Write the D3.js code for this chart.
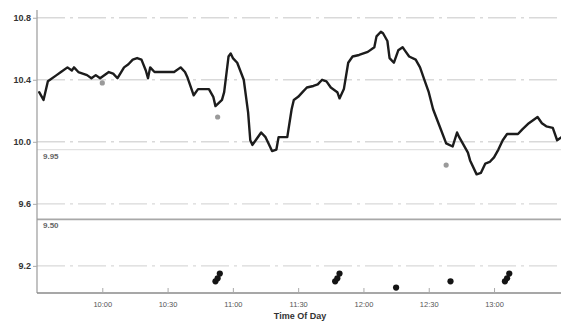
<!DOCTYPE html>
<html>
<head>
<meta charset="utf-8">
<script src="https://cdn.jsdelivr.net/npm/d3@7"></script>
<style>
  html, body { margin: 0; padding: 0; background: #fff; }
  svg { display: block; font-family: "Liberation Sans", Arial, sans-serif; }
</style>
</head>
<body>
<svg id="chart" width="561" height="325"></svg>
<script>
// Intraday readings (time of day, value)
const times = [
  "9:31","9:33","9:35","9:39","9:41","9:44","9:46","9:47","9:49","9:53",
  "9:55","9:57","9:59","10:03","10:05","10:07","10:10","10:12","10:14","10:16",
  "10:18","10:20","10:21","10:22","10:24","10:30","10:33","10:36","10:38","10:39",
  "10:42","10:44","10:49","10:51","10:52","10:55","10:56","10:58","10:59","11:00",
  "11:02","11:05","11:07","11:08","11:09","11:10","11:13","11:15","11:16","11:18",
  "11:20","11:21","11:23","11:25","11:27","11:28","11:30","11:32","11:34","11:37",
  "11:39","11:41","11:43","11:45","11:48","11:49","11:51","11:53","11:55","11:58",
  "12:00","12:02","12:05","12:06","12:08","12:09","12:11","12:12","12:14","12:16",
  "12:18","12:19","12:21","12:24","12:26","12:28","12:30","12:32","12:35","12:38",
  "12:41","12:43","12:44","12:48","12:49","12:52","12:54","12:56","12:58","13:00",
  "13:02","13:04","13:06","13:11","13:13","13:16","13:20","13:22","13:24","13:27",
  "13:29","13:31"
];
const values = [
  10.32,10.27,10.39,10.43,10.45,10.48,10.46,10.48,10.45,10.43,
  10.41,10.43,10.41,10.45,10.44,10.41,10.48,10.50,10.53,10.54,
  10.53,10.46,10.41,10.48,10.45,10.45,10.45,10.48,10.45,10.42,
  10.30,10.34,10.34,10.29,10.23,10.27,10.32,10.55,10.57,10.54,
  10.51,10.40,10.19,10.01,9.98,10.00,10.06,10.03,10.00,9.94,
  9.95,10.03,10.03,10.03,10.21,10.27,10.29,10.32,10.35,10.36,
  10.37,10.40,10.39,10.35,10.32,10.28,10.34,10.51,10.55,10.56,
  10.57,10.58,10.61,10.68,10.71,10.70,10.65,10.54,10.51,10.59,
  10.61,10.59,10.55,10.53,10.48,10.40,10.32,10.21,10.10,9.99,
  9.97,10.06,10.03,9.93,9.88,9.79,9.80,9.86,9.87,9.90,
  9.95,10.01,10.05,10.05,10.08,10.12,10.16,10.12,10.10,10.09,
  10.01,10.03
];

// Event markers along the bottom of the plot
const eventTimes  = ["10:52","10:53","10:54","11:47","11:48","11:49","12:15","12:40","13:05","13:06","13:07"];
const eventValues = [9.10, 9.12, 9.15, 9.10, 9.12, 9.15, 9.06, 9.10, 9.10, 9.12, 9.15];

// Annotated readings
const noteTimes  = ["10:00","10:53","12:38"];
const noteValues = [10.38, 10.16, 9.85];

// Reference levels
const refValues = [9.95, 9.50];

// Axis ticks
const yTicks = [10.8, 10.4, 10.0, 9.6, 9.2];
const xTicks = ["10:00","10:30","11:00","11:30","12:00","12:30","13:00"];
const xTitle = "Time Of Day";

const parse = d3.timeParse("%H:%M");
const svg = d3.select("#chart");

const x = d3.scaleTime()
  .domain([parse("9:30"), parse("13:31")])
  .range([37, 561.5]);
const y = d3.scaleLinear()
  .domain([9.025, 10.85])
  .range([293, 10]);

// Horizontal grid lines
svg.append("g")
  .selectAll("line")
  .data(yTicks)
  .join("line")
  .attr("x1", x.range()[0]).attr("x2", 561)
  .attr("y1", d => y(d)).attr("y2", d => y(d))
  .attr("stroke", "#d9d9d9")
  .attr("stroke-width", 1.4)
  .attr("stroke-dasharray", "28 5 3 5");

// Reference levels with their labels
const refs = svg.append("g");
refs.selectAll("line")
  .data(refValues)
  .join("line")
  .attr("x1", x.range()[0]).attr("x2", 561)
  .attr("y1", d => y(d)).attr("y2", d => y(d))
  .attr("stroke", (d, i) => i === 0 ? "#e2e2e2" : "#a8a8a8")
  .attr("stroke-width", (d, i) => i === 0 ? 1.2 : 1.6);
refs.selectAll("text")
  .data(refValues)
  .join("text")
  .attr("x", 43)
  .attr("y", d => y(d) + 9)
  .attr("font-size", 8)
  .attr("font-weight", "bold")
  .attr("fill", "#666")
  .text(d => d3.format(".2f")(d));

// Y axis
const yAxis = svg.append("g")
  .attr("transform", `translate(${x.range()[0]},0)`)
  .call(d3.axisLeft(y).tickValues(yTicks).tickFormat(d3.format(".1f")).tickSize(4).tickPadding(2));
yAxis.select(".domain").attr("stroke", "#9a9a9a").attr("stroke-width", 1.2)
  .attr("d", `M0,${y.range()[1]}V${y.range()[0]}`);
yAxis.selectAll(".tick line").attr("stroke", "#aaa");
yAxis.selectAll(".tick text")
  .attr("font-size", 9).attr("font-weight", "bold").attr("fill", "#333")
  .attr("font-family", "Liberation Sans, Arial, sans-serif");

// X axis
const xAxis = svg.append("g")
  .attr("transform", `translate(0,${y.range()[0]})`)
  .call(d3.axisBottom(x).tickValues(xTicks.map(parse)).tickFormat(d3.timeFormat("%H:%M"))
    .tickSize(-5).tickPadding(9));
xAxis.select(".domain").attr("stroke", "#8a8a8a").attr("stroke-width", 1.4)
  .attr("d", `M${x.range()[0]},0H561`);
xAxis.selectAll(".tick line").attr("stroke", "#aaa");
xAxis.selectAll(".tick text")
  .attr("font-size", 7.5).attr("fill", "#555")
  .attr("font-family", "Liberation Sans, Arial, sans-serif");

svg.append("text")
  .attr("x", 300).attr("y", 319)
  .attr("text-anchor", "middle")
  .attr("font-size", 9).attr("font-weight", "bold").attr("fill", "#333")
  .text(xTitle);

// Main series
const series = times.map((t, i) => ({ t: parse(t), v: values[i] }));
svg.append("path")
  .datum(series)
  .attr("fill", "none")
  .attr("stroke", "#1c1c1c")
  .attr("stroke-width", 2.4)
  .attr("stroke-linejoin", "round")
  .attr("stroke-linecap", "round")
  .attr("d", d3.line().x(d => x(d.t)).y(d => y(d.v)));

// Annotated readings
svg.append("g")
  .selectAll("circle")
  .data(noteTimes.map((t, i) => ({ t: parse(t), v: noteValues[i] })))
  .join("circle")
  .attr("cx", d => x(d.t)).attr("cy", d => y(d.v))
  .attr("r", 2.6)
  .attr("fill", "#9a9a9a");

// Events
svg.append("g")
  .selectAll("circle")
  .data(eventTimes.map((t, i) => ({ t: parse(t), v: eventValues[i] })))
  .join("circle")
  .attr("cx", d => x(d.t)).attr("cy", d => y(d.v))
  .attr("r", 3.1)
  .attr("fill", "#141414");
</script>
</body>
</html>
